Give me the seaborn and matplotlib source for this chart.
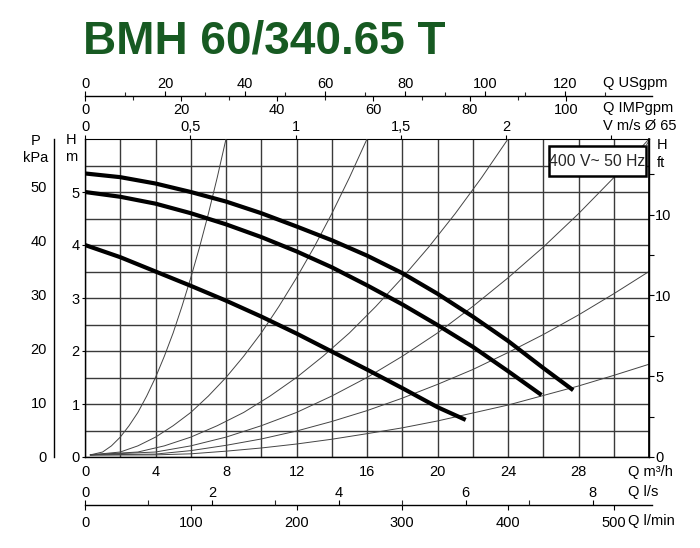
import matplotlib
matplotlib.use("Agg")
import matplotlib.pyplot as plt
import matplotlib.patches as patches
import seaborn as sns

# pump curves (Q in m3/h, H in m)
q_top = [0, 2, 4, 6, 8, 10, 12, 14, 16, 18, 20, 22, 24, 26, 27.7]
h_top = [5.35, 5.28, 5.16, 5.00, 4.82, 4.60, 4.35, 4.09, 3.80, 3.47, 3.08, 2.65, 2.19, 1.68, 1.26]
q_mid = [0, 2, 4, 6, 8, 10, 12, 14, 16, 18, 20, 22, 24, 25.9]
h_mid = [5.0, 4.91, 4.78, 4.60, 4.39, 4.15, 3.88, 3.58, 3.24, 2.88, 2.49, 2.08, 1.62, 1.17]
q_low = [0, 2, 4, 6, 8, 10, 12, 14, 16, 18, 20, 21.6]
h_low = [4.0, 3.77, 3.50, 3.23, 2.95, 2.65, 2.33, 1.99, 1.65, 1.30, 0.94, 0.70]

# thin system curves
sys_q = [
    [0.3, 1, 1.5, 2, 2.5, 3, 3.5, 4, 4.5, 5, 5.5, 6, 6.5, 7, 7.5, 8],
    [0.3, 2, 3, 4, 5, 6, 7, 8, 9, 10, 11, 12, 13, 14, 15, 16],
    [0.3, 3, 4.5, 6, 7.5, 9, 10.5, 12, 13.5, 15, 16.5, 18, 19.5, 21, 22.5, 24],
    [0.3, 4, 6, 8, 10, 12, 14, 16, 18, 20, 22, 24, 26, 28, 30, 32],
    [0.3, 4, 6, 8, 10, 12, 14, 16, 18, 20, 22, 24, 26, 28, 30, 32],
    [0.3, 4, 6, 8, 10, 12, 14, 16, 18, 20, 22, 24, 26, 28, 30, 32],
]
sys_h = [
    [0.04, 0.094, 0.21, 0.375, 0.59, 0.84, 1.15, 1.5, 1.9, 2.34, 2.84, 3.38, 3.96, 4.59, 5.27, 6.0],
    [0.04, 0.094, 0.21, 0.375, 0.59, 0.84, 1.15, 1.5, 1.9, 2.34, 2.84, 3.38, 3.96, 4.59, 5.27, 6.0],
    [0.04, 0.094, 0.21, 0.375, 0.59, 0.84, 1.15, 1.5, 1.9, 2.34, 2.84, 3.38, 3.96, 4.59, 5.27, 6.0],
    [0.04, 0.094, 0.21, 0.375, 0.59, 0.84, 1.15, 1.5, 1.9, 2.34, 2.84, 3.38, 3.96, 4.59, 5.27, 6.0],
    [0.04, 0.055, 0.12, 0.22, 0.34, 0.49, 0.67, 0.875, 1.11, 1.37, 1.65, 1.97, 2.31, 2.68, 3.08, 3.5],
    [0.035, 0.04, 0.06, 0.11, 0.17, 0.245, 0.335, 0.44, 0.55, 0.68, 0.83, 0.98, 1.16, 1.34, 1.54, 1.75],
]

# axis scales
m3h_ticks = [0, 4, 8, 12, 16, 20, 24, 28]
hm_ticks = [0, 1, 2, 3, 4, 5]
kpa_ticks = [0, 10, 20, 30, 40, 50]
ft_ticks = [0, 5, 10, 15]
ft_labels = ["0", "5", "10", "10"]
usgpm_ticks = [0, 20, 40, 60, 80, 100, 120]
impgpm_ticks = [0, 20, 40, 60, 80, 100]
v_ticks = [0, 0.5, 1, 1.5, 2, 2.5]
v_labels = ["0", "0,5", "1", "1,5", "2", ""]
ls_ticks = [0, 2, 4, 6, 8]
lmin_ticks = [0, 100, 200, 300, 400, 500]
legend_text = "400 V~ 50 Hz"
title = "BMH 60/340.65 T"

sns.set_theme(style="white")
plt.rcParams["font.family"] = ["Liberation Sans", "DejaVu Sans"]
FS = 10.5

W, H = 700, 548
fig = plt.figure(figsize=(7, 5.48), dpi=100)


def box(x0, y0, x1, y1):
    return [x0 / W, 1 - y1 / H, (x1 - x0) / W, (y1 - y0) / H]


PX_Q = 17.625  # px per m3/h
x_end = (652 - 85) / PX_Q

ax = fig.add_axes(box(85, 139, 649, 457))
ax.set_xlim(0, 32)
ax.set_ylim(0, 6)
ax.set_xticks(m3h_ticks)
ax.set_xticks([2, 6, 10, 14, 18, 22, 26, 30], minor=True)
ax.set_yticks(hm_ticks)
ax.set_yticks([0.5, 1.5, 2.5, 3.5, 4.5, 5.5], minor=True)
ax.grid(True, which="both", color="#3a3a3a", linewidth=1.0)
ax.tick_params(axis="x", which="both", length=0, pad=5.5, labelsize=FS, colors="black")
ax.tick_params(axis="y", which="major", length=2.2, width=0.8, pad=1.5, labelsize=FS,
               direction="out", left=True, colors="black")
ax.tick_params(axis="y", which="minor", length=0)
for s in ax.spines.values():
    s.set_color("black")
    s.set_linewidth(1.0)
ax.spines["top"].set_linewidth(0.8)

for q, h in zip(sys_q, sys_h):
    sns.lineplot(x=q, y=h, ax=ax, color="#444444", linewidth=0.7, zorder=3)
for q, h in [(q_top, h_top), (q_mid, h_mid), (q_low, h_low)]:
    sns.lineplot(x=q, y=h, ax=ax, color="black", linewidth=3.0, zorder=4,
                 solid_capstyle="butt", solid_joinstyle="round")

# legend box
bx0, bx1 = (549 - 85) / PX_Q, (646 - 85) / PX_Q
by0, by1 = (457 - 176) / 53, (457 - 146) / 53
ax.add_patch(patches.Rectangle((bx0, by0), bx1 - bx0, by1 - by0, facecolor="white",
                               edgecolor="black", linewidth=1.8, zorder=6))
ax.plot([bx1, 32.05], [by1, 6.0], color="#555555", linewidth=0.8, zorder=6, clip_on=False)
ax.text((bx0 + bx1) / 2, (by0 + by1) / 2, legend_text, ha="center", va="center",
        fontsize=11.3, zorder=7)

# right ft axis
ax_ft = ax.twinx()
ax_ft.set_ylim(0, 6 / 0.3048)
ax_ft.set_yticks(ft_ticks)
ax_ft.set_yticklabels(ft_labels)
ax_ft.set_yticks([2.5, 7.5, 12.5, 17.5], minor=True)
ax_ft.tick_params(axis="y", which="both", direction="out", length=3.5, width=0.8,
                  pad=1, labelsize=FS, colors="black")
ax_ft.grid(False)
for k in ["left", "top", "bottom"]:
    ax_ft.spines[k].set_visible(False)
ax_ft.spines["right"].set_color("black")

# left kPa axis
ax_kpa = fig.add_axes(box(54, 139, 54.1, 457))
ax_kpa.set_ylim(0, 6 * 9.80665)
ax_kpa.set_yticks(kpa_ticks)
ax_kpa.set_yticks([5, 15, 25, 35, 45, 55], minor=True)
ax_kpa.set_xticks([])
ax_kpa.patch.set_visible(False)
for k in ["right", "top", "bottom"]:
    ax_kpa.spines[k].set_visible(False)
ax_kpa.spines["left"].set_color("black")
ax_kpa.spines["left"].set_linewidth(1.0)
ax_kpa.tick_params(axis="y", which="both", direction="out", length=4, width=0.8,
                   pad=1, labelsize=FS, colors="black")


def scale_axes(ypx, x1px):
    a = fig.add_axes(box(85, ypx, x1px, ypx + 0.01))
    a.patch.set_visible(False)
    a.set_yticks([])
    for s in a.spines.values():
        s.set_visible(False)
    return a


# top Q USgpm / IMPgpm
ax_imp = scale_axes(96, 652)
ax_imp.spines["bottom"].set_visible(True)
ax_imp.spines["bottom"].set_color("black")
ax_imp.spines["bottom"].set_linewidth(1.0)
ax_imp.set_xlim(0, x_end * 3.6662)
ax_imp.set_xticks(impgpm_ticks)
ax_imp.set_xticks([10, 30, 50, 70, 90], minor=True)
ax_imp.tick_params(axis="x", which="major", direction="out", length=3.6, width=0.8,
                   pad=1.5, labelsize=FS, colors="black")
ax_imp.tick_params(axis="x", which="minor", direction="out", length=3, width=0.8)
ax_us = ax_imp.twiny()
ax_us.patch.set_visible(False)
for s in ax_us.spines.values():
    s.set_visible(False)
ax_us.set_xlim(0, x_end * 4.4029)
ax_us.set_xticks(usgpm_ticks)
ax_us.set_xticks([10, 30, 50, 70, 90, 110, 130], minor=True)
ax_us.tick_params(axis="x", which="major", direction="out", length=3.6, width=0.8,
                  pad=0, labelsize=FS, colors="black")
ax_us.tick_params(axis="x", which="minor", direction="out", length=3, width=0.8)

# velocity axis on top of plot
ax_v = scale_axes(139, 649)
ax_v.set_xlim(0, 32 / 11.945)
ax_v.xaxis.set_ticks_position("top")
ax_v.set_xticks(v_ticks)
ax_v.set_xticklabels(v_labels)
ax_v.tick_params(axis="x", which="major", direction="out", length=3, width=0.8,
                 pad=0.5, labelsize=FS, colors="black", top=True, bottom=False,
                 labeltop=True, labelbottom=False)

# bottom Q l/s / l/min
ax_lmin = scale_axes(505, 652)
ax_lmin.spines["bottom"].set_visible(True)
ax_lmin.spines["bottom"].set_color("black")
ax_lmin.spines["bottom"].set_linewidth(1.0)
ax_lmin.set_xlim(0, x_end * 1000 / 60)
ax_lmin.set_xticks(lmin_ticks)
ax_lmin.tick_params(axis="x", which="major", direction="out", length=3.6, width=0.8,
                    pad=4.5, labelsize=FS, colors="black")
ax_ls = ax_lmin.twiny()
ax_ls.patch.set_visible(False)
for s in ax_ls.spines.values():
    s.set_visible(False)
ax_ls.set_xlim(0, x_end / 3.6)
ax_ls.set_xticks(ls_ticks)
ax_ls.set_xticks([1, 3, 5, 7], minor=True)
ax_ls.tick_params(axis="x", which="major", direction="out", length=3.6, width=0.8,
                  pad=0, labelsize=FS, colors="black")
ax_ls.tick_params(axis="x", which="minor", direction="out", length=3.6, width=0.8)

# axis names
def label(xpx, ypx, s, ha="left"):
    fig.text(xpx / W, 1 - ypx / H, s, fontsize=FS, ha=ha, va="center", color="black")


label(603, 83, "Q USgpm")
label(603, 108, "Q IMPgpm")
label(603, 126, "V m/s Ø 65")
label(36, 141, "P", ha="center")
label(36, 158, "kPa", ha="center")
label(71, 140, "H", ha="center")
label(71, 157, "m", ha="center")
label(657, 145, "H")
label(657, 163, "ft")
label(628, 472, "Q m³/h")
label(628, 492, "Q l/s")
label(628, 521, "Q l/min")

fig.text(83 / W, 1 - 42 / H, title, fontsize=33, fontweight="bold", color="#175a22",
         ha="left", va="center")

fig.savefig("out.png", dpi=100)
